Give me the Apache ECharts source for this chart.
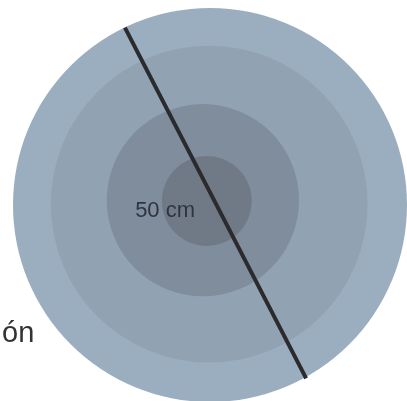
<!DOCTYPE html>
<html><head><meta charset="utf-8">
<script src="https://cdn.jsdelivr.net/npm/echarts@6/dist/echarts.min.js"></script>
<style>html,body{margin:0;padding:0;background:#fff}#c{width:407px;height:401px}</style>
</head><body><div id="c"></div>
<script>
// Concentric zones (cm); outer diameter = 50 cm
const ringNames = ['Zona 4', 'Zona 3', 'Zona 2', 'Zona 1'];
const ringRadius = [25, 20.1, 12.2, 5.7];
const ringCenterX = [0, -0.1, -0.9, -0.4];
const ringCenterY = [0, 0.1, 0.6, 0.5];
// diameter line endpoints (cm)
const diameterX = [-10.8, 12.2];
const diameterY = [22.5, -22.0];
const diameterLabel = '50 cm';
const labelPos = [-5.7, -0.7];
const sideText = 'ón';

const ringColors = ['#9aaebf', '#91a2b3', '#808d9c', '#707a87'];

const chart = echarts.init(document.getElementById('c'), null, {renderer: 'canvas'});
const ringData = ringNames.map((n, i) => ({name: n, value: [ringCenterX[i], ringCenterY[i], ringRadius[i]]}));
chart.setOption({
  animation: false,
  backgroundColor: '#ffffff',
  grid: {left: 0, right: 0, top: 0, bottom: 0},
  xAxis: {type: 'value', min: -26.65, max: 25.0, show: false},
  yAxis: {type: 'value', min: -24.87, max: 26.0, show: false},
  graphic: [{
    type: 'text', left: 2, top: 319, z: 10,
    style: {text: sideText, font: '29px "Liberation Sans", Arial, sans-serif', fill: '#333333'}
  }],
  series: [
    {
      type: 'custom', z: 1,
      data: ringData,
      renderItem: function (params, api) {
        const c = api.coord([api.value(0), api.value(1)]);
        const s = api.size([api.value(2), api.value(2)]);
        return {type: 'circle', shape: {cx: c[0], cy: c[1], r: s[0]},
          style: {fill: ringColors[params.dataIndex]}};
      }
    },
    {
      type: 'line', z: 3, symbol: 'none', silent: true,
      data: diameterX.map((x, i) => [x, diameterY[i]]),
      lineStyle: {color: '#2b2b2e', width: 4}
    },
    {
      type: 'custom', z: 4,
      data: [[labelPos[0], labelPos[1]]],
      renderItem: function (params, api) {
        const c = api.coord([api.value(0), api.value(1)]);
        return {type: 'text', x: c[0], y: c[1],
          style: {text: diameterLabel, font: '22px "Liberation Sans", Arial, sans-serif', fill: '#2f3540', align: 'center', verticalAlign: 'middle'}};
      }
    }
  ]
});
</script></body></html>
